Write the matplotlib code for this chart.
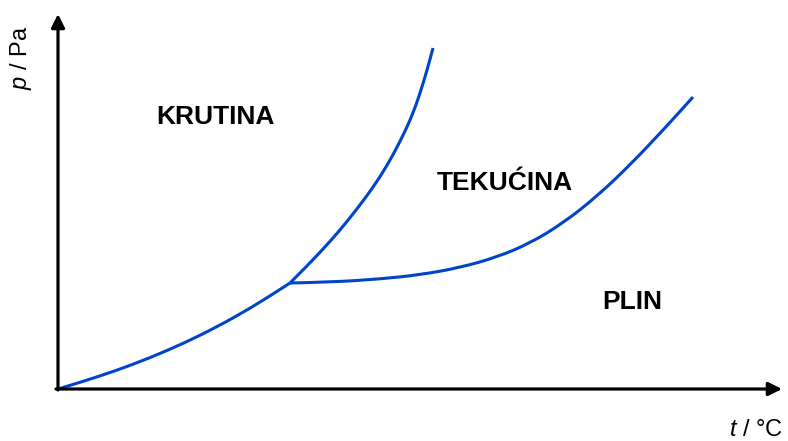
import matplotlib
matplotlib.use("Agg")
import matplotlib.pyplot as plt
from matplotlib.path import Path
from matplotlib.patches import PathPatch

plt.rcParams['font.family'] = ['Liberation Sans', 'DejaVu Sans']
plt.rcParams['mathtext.fontset'] = 'custom'
plt.rcParams['mathtext.it'] = 'Liberation Sans:italic'
plt.rcParams['mathtext.rm'] = 'Liberation Sans'

# phase boundaries (temperature, pressure) in arbitrary units
subl_t = [0, 25, 59, 92, 125, 159, 192, 219, 232]
subl_p = [0, 7.5, 18.7, 31.2, 45.4, 62.1, 80.6, 97.6, 106]

melt_t = [232, 250, 272, 289, 308, 322, 335, 348, 355, 361, 369, 375]
melt_p = [106, 123.9, 147.4, 167.3, 191.8, 212.0, 233.8, 259.6, 276.0,
          292.5, 318.5, 341]

vap_t = [232, 272, 322, 362, 402, 439, 472, 505, 539, 572, 605, 635]
vap_p = [106, 106.8, 110.0, 114.2, 121.4, 131.9, 145.8, 165.8, 192.7,
         224.0, 258.8, 292.0]

regions = ["KRUTINA", "TEKUĆINA", "PLIN"]
region_t = [157, 447, 574]
region_p = [265, 199, 80]

blue = '#0044CC'


def smooth_path(xs, ys):
    # quadratic b-spline through the midpoints, so the line has no kinks
    pts = list(zip(xs, ys))
    verts = [pts[0]]
    codes = [Path.MOVETO]
    for i in range(1, len(pts) - 1):
        mid = ((pts[i][0] + pts[i + 1][0]) / 2, (pts[i][1] + pts[i + 1][1]) / 2)
        verts += [pts[i], mid]
        codes += [Path.CURVE3, Path.CURVE3]
    verts.append(pts[-1])
    codes.append(Path.LINETO)
    return Path(verts, codes)


fig = plt.figure(figsize=(7.88, 4.41), dpi=100)
ax = fig.add_axes([58 / 788, 52 / 441, 724 / 788, 375 / 441])
ax.set_xlim(0, 724)
ax.set_ylim(0, 375)
ax.axis("off")

# axes drawn as arrows
arrow = dict(arrowstyle='-|>', color='black', lw=2.3, mutation_scale=20,
             shrinkA=0, shrinkB=0)
ax.annotate("", xy=(724, 0), xytext=(-2, 0), arrowprops=arrow, annotation_clip=False)
ax.annotate("", xy=(0, 375), xytext=(0, -1), arrowprops=arrow, annotation_clip=False)

for t, p in [(subl_t, subl_p), (melt_t, melt_p), (vap_t, vap_p)]:
    ax.add_patch(PathPatch(smooth_path(t, p), facecolor='none', edgecolor=blue,
                           lw=2.2, capstyle='butt', joinstyle='round',
                           clip_on=False))

for name, t, p in zip(regions, region_t, region_p):
    ax.text(t, p, name, ha='center', va='baseline', fontsize=19,
            fontweight='bold', color='black')

ax.text(725, -47, "$t$ / °C", ha='right', va='baseline', fontsize=17,
        clip_on=False)
ax.text(-37, 331, "$p$ / Pa", ha='center', va='center', rotation=90,
        fontsize=17, clip_on=False)

fig.savefig("out.png", dpi=100)
